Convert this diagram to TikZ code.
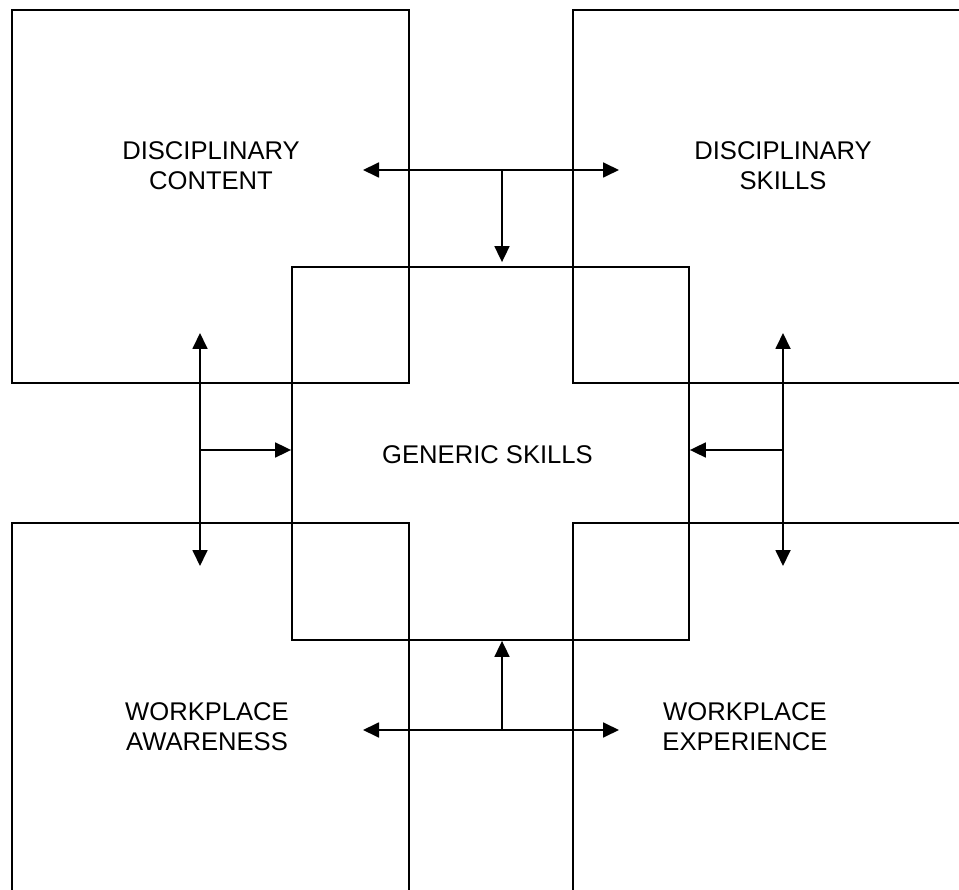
\documentclass[tikz,border=0pt]{standalone}
\usepackage{fontspec}
\setmainfont{Liberation Sans}
\usetikzlibrary{arrows.meta, positioning}
\tikzset{
  panel/.style={draw=black, line width=1.8pt, minimum width=397pt, minimum height=373pt,
                inner sep=0pt},
  tag/.style={align=center, inner sep=0pt, font=\fontsize{25.6}{30}\selectfont},
  flow/.style={draw=black, line width=1.8pt, -{Triangle[length=16pt, width=15pt]}},
  twoway/.style={flow, {Triangle[length=16pt, width=15pt]}-{Triangle[length=16pt, width=15pt]}},
}
\begin{document}
\begin{tikzpicture}[x=1pt, y=-1pt]
\useasboundingbox (0,0) rectangle (959,890);
\clip (0,0) rectangle (959,890);
\node[panel] (dc) at (210.5,196.5) {};
\node[panel] (ds) at (771.5,196.5) {};
\node[panel] (wa) at (210.5,709.5) {};
\node[panel] (we) at (771.5,709.5) {};
\node[panel] (gs) at (490.5,453.5) {};
\node[tag] (dc-t) at (211,165.5) {DISCIPLINARY\\CONTENT};
\node[tag] (ds-t) at (783,165.5) {DISCIPLINARY\\SKILLS};
\node[tag] (gs-t) at (487.5,454.5) {GENERIC SKILLS};
\node[tag] (wa-t) at (207,727) {WORKPLACE\\AWARENESS};
\node[tag] (we-t) at (745,727) {WORKPLACE\\EXPERIENCE};
\coordinate (top-l) at (363,170);
\coordinate (top-r) at (619,170);
\coordinate (top-m) at (502,170);
\coordinate (bot-l) at (363,730);
\coordinate (bot-r) at (619,730);
\coordinate (bot-m) at (502,730);
\coordinate (lft-t) at (200,333);
\coordinate (lft-b) at (200,566);
\coordinate (lft-m) at (200,450);
\coordinate (rgt-t) at (783,333);
\coordinate (rgt-b) at (783,566);
\coordinate (rgt-m) at (783,450);
\draw[twoway] (top-l) -- (top-r);
\draw[flow, shorten >=4pt] (top-m) -- (top-m |- gs.north);
\draw[twoway] (bot-l) -- (bot-r);
\draw[flow] (bot-m) -- (bot-m |- gs.south);
\draw[twoway] (lft-t) -- (lft-b);
\draw[flow] (lft-m) -- (lft-m -| gs.west);
\draw[twoway] (rgt-t) -- (rgt-b);
\draw[flow] (rgt-m) -- (rgt-m -| gs.east);
\end{tikzpicture}
\end{document}
